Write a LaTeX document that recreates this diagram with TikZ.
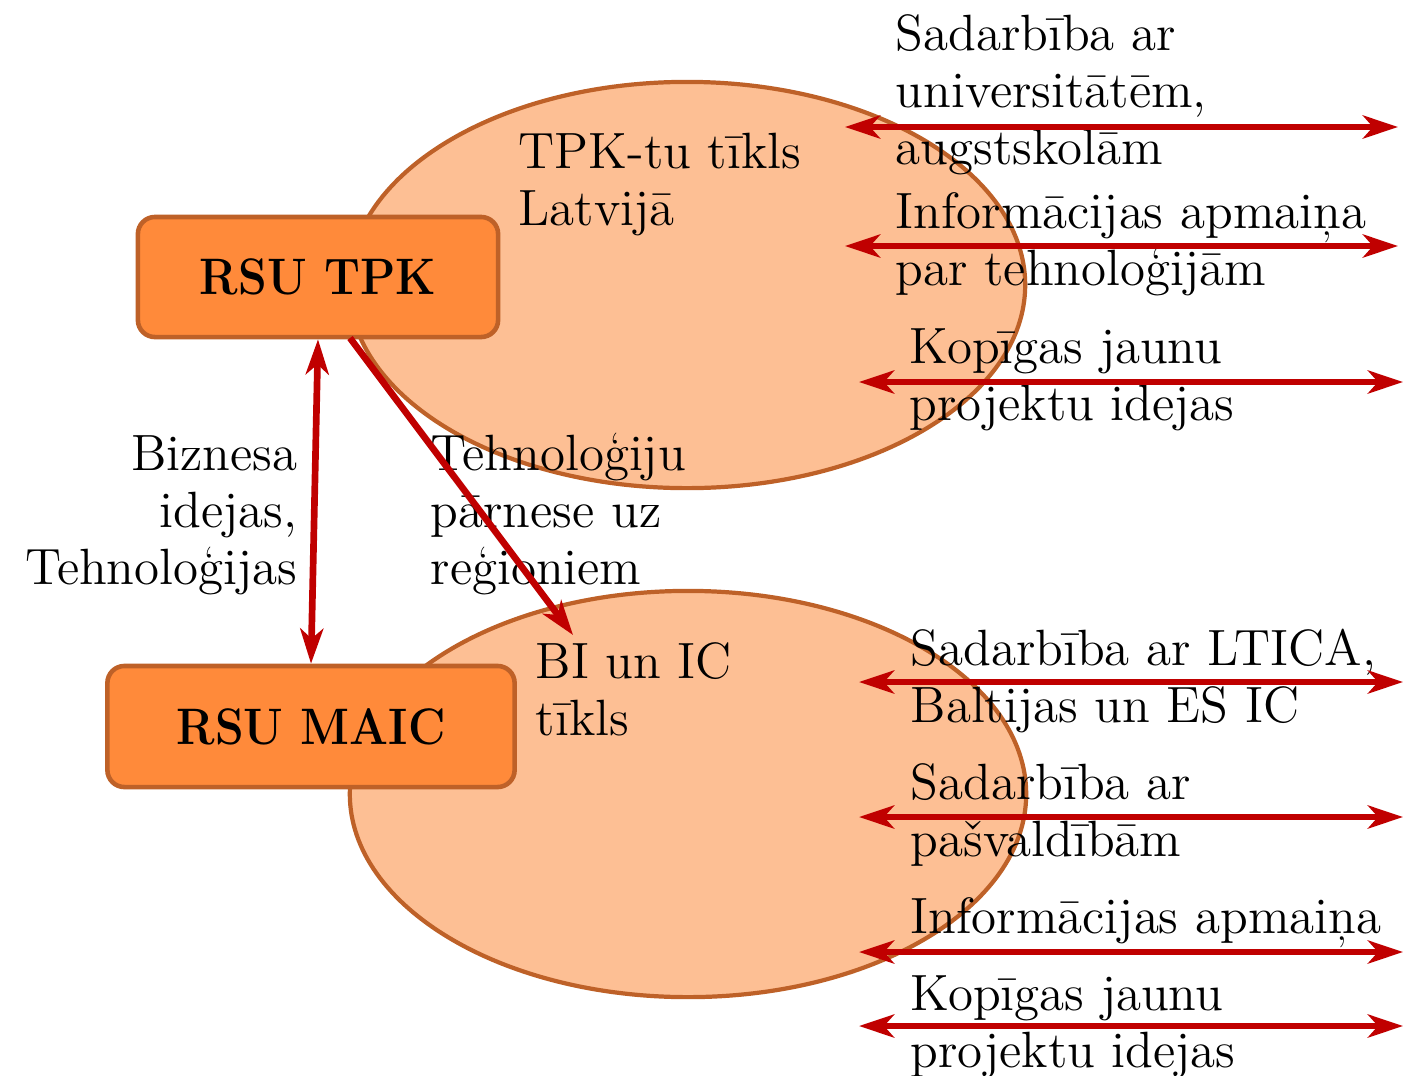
\documentclass[tikz,border=0pt]{standalone}
\usepackage{fontspec}
\usetikzlibrary{arrows.meta,shapes.geometric}
\definecolor{boxfill}{HTML}{FF8A3A}
\definecolor{brd}{HTML}{BE6128}
\definecolor{ellfill}{HTML}{FDBF94}
\definecolor{arr}{HTML}{C00000}
\begin{document}
\begin{tikzpicture}[x=0.01cm,y=-0.01cm,
  txt/.style={inner sep=0pt,font=\fontsize{14.5pt}{16.2pt}\selectfont},
  lt/.style={txt,align=left,anchor=base west},
  rt/.style={txt,align=right,anchor=base east},
  ell/.style={ellipse,draw=brd,fill=ellfill,line width=1.2pt,minimum width=6.76cm,minimum height=4.06cm,inner sep=0pt},
  unit/.style={rectangle,rounded corners=0.17cm,draw=brd,fill=boxfill,line width=1.3pt,font=\fontsize{14.6pt}{16.2pt}\selectfont\bfseries,inner sep=0pt},
  link/.style={draw=arr,line width=1.9pt},
  both/.style={link,{Stealth[length={0.35cm 0},width={0.23cm 0},inset={0.1cm 0}]}-{Stealth[length={0.35cm 0},width={0.23cm 0},inset={0.1cm 0}]}},
  one/.style={link,-{Stealth[length={0.35cm 0},width={0.23cm 0},inset={0.1cm 0}]}}]
\useasboundingbox (0,0) rectangle (1403,1075);
% ellipses
\node[ell] (E1) at (687,285) {};
\node[ell] (E2) at (688,794) {};
% boxes
\node[unit,minimum width=3.6cm,minimum height=1.2cm] (TPK) at (318,277) {\scalebox{0.895}[1]{RSU TPK}};
\node[unit,minimum width=4.07cm,minimum height=1.21cm] (MAIC) at (311,726.5) {\scalebox{0.895}[1]{RSU MAIC}};
% texts (anchor = baseline of the last line)
\node[lt] (t1) at (518,225) {TPK-tu tīkls\\Latvijā};
\node[lt] (t2) at (535,735) {BI un IC\\tīkls};
\node[rt] (t3) at (298,584) {Biznesa\\idejas,\\Tehnoloģijas};
\node[lt] (t4) at (430,584) {Tehnoloģiju\\pārnese uz\\reģioniem};
\node[lt] (r1) at (895,164) {Sadarbība ar\\universitātēm,\\augstskolām};
\node[lt] (r2) at (895,285) {Informācijas apmaiņa\\par tehnoloģijām};
\node[lt] (r3) at (909,420) {Kopīgas jaunu\\projektu idejas};
\node[lt] (r4) at (910,722) {Sadarbība ar LTICA,\\Baltijas un ES IC};
\node[lt] (r5) at (910,856) {Sadarbība ar\\pašvaldībām};
\node[lt] (r6) at (910,933) {Informācijas apmaiņa};
\node[lt] (r7) at (910,1067) {Kopīgas jaunu\\projektu idejas};
% arrow end points
\coordinate (a1l) at (845,127); \coordinate (a1r) at (1398,127);
\coordinate (a2l) at (845,246); \coordinate (a2r) at (1398,246);
\coordinate (a3l) at (859,382); \coordinate (a3r) at (1403,382);
\coordinate (a4l) at (859,682); \coordinate (a4r) at (1403,682);
\coordinate (a5l) at (859,817); \coordinate (a5r) at (1403,817);
\coordinate (a6l) at (859,952); \coordinate (a6r) at (1403,952);
\coordinate (a7l) at (859,1026); \coordinate (a7r) at (1403,1026);
\coordinate (d1) at (350,338); \coordinate (d2) at (573,635);
% connectors
\draw[both] (TPK.south) -- (MAIC.north);
\draw[one] (d1) -- (d2);
\foreach \i in {1,...,7} {\draw[both] (a\i l) -- (a\i r);}
\end{tikzpicture}
\end{document}
